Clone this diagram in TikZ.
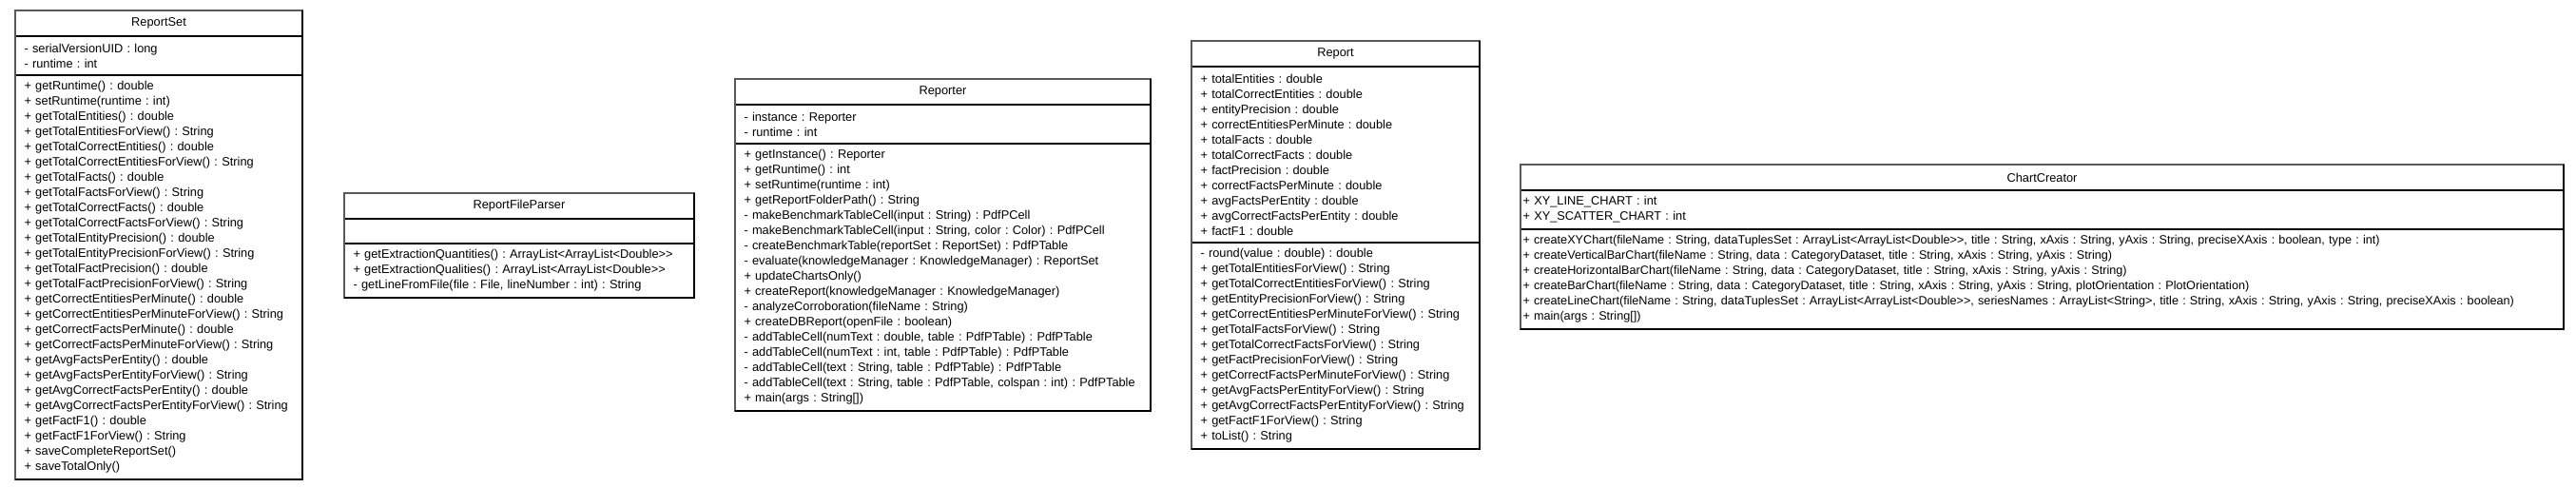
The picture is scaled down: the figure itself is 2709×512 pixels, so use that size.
\documentclass[tikz,border=0pt]{standalone}
\usepackage{fontspec}
\setmainfont{Liberation Sans}
\usetikzlibrary{positioning}
\tikzset{
    classname/.style={
           rectangle,
           draw=black, line width=1pt,
           minimum height=26pt,
           inner sep=0pt,
           text centered,
           font=\fontsize{12.8}{16}\selectfont,
           },
    classpart/.style={
           rectangle,
           draw=black, line width=1pt,
           inner xsep=9pt, inner ysep=0pt,
           align=left,
           font=\fontsize{12.8}{16}\selectfont,
           execute at begin node={\frenchspacing\hyphenpenalty=10000\exhyphenpenalty=10000},
           },
    classframe/.style={draw=black!65, line width=2pt},
    classshadow/.style={draw=black, line width=2pt},
}

\begin{document}
\begin{tikzpicture}
   \useasboundingbox (0,0) rectangle (2709pt,-512pt);

   % ReportSet
   \node[classname, minimum width=301pt, anchor=north west] (REPORTSET) at (16pt,-11pt) {ReportSet};
   \node[classpart, text width=283pt, minimum height=40pt, below=0pt of REPORTSET] (REPORTSETATTR)
   {- serialVersionUID : long\\
    - runtime : int};
   \node[classpart, text width=283pt, minimum height=424pt, below=0pt of REPORTSETATTR] (REPORTSETOPS)
   {+ getRuntime() : double\\
    + setRuntime(runtime : int)\\
    + getTotalEntities() : double\\
    + getTotalEntitiesForView() : String\\
    + getTotalCorrectEntities() : double\\
    + getTotalCorrectEntitiesForView() : String\\
    + getTotalFacts() : double\\
    + getTotalFactsForView() : String\\
    + getTotalCorrectFacts() : double\\
    + getTotalCorrectFactsForView() : String\\
    + getTotalEntityPrecision() : double\\
    + getTotalEntityPrecisionForView() : String\\
    + getTotalFactPrecision() : double\\
    + getTotalFactPrecisionForView() : String\\
    + getCorrectEntitiesPerMinute() : double\\
    + getCorrectEntitiesPerMinuteForView() : String\\
    + getCorrectFactsPerMinute() : double\\
    + getCorrectFactsPerMinuteForView() : String\\
    + getAvgFactsPerEntity() : double\\
    + getAvgFactsPerEntityForView() : String\\
    + getAvgCorrectFactsPerEntity() : double\\
    + getAvgCorrectFactsPerEntityForView() : String\\
    + getFactF1() : double\\
    + getFactF1ForView() : String\\
    + saveCompleteReportSet()\\
    + saveTotalOnly()};

   % ReportFileParser
   \node[classname, minimum width=367pt, anchor=north west] (PARSER) at (362pt,-203pt) {ReportFileParser};
   \node[classpart, text width=349pt, minimum height=25pt, below=0pt of PARSER] (PARSERATTR) {};
   \node[classpart, text width=349pt, minimum height=56pt, below=0pt of PARSERATTR] (PARSEROPS)
   {+ getExtractionQuantities() : ArrayList<ArrayList<Double>{}>\\
    + getExtractionQualities() : ArrayList<ArrayList<Double>{}>\\
    - getLineFromFile(file : File, lineNumber : int) : String};

   % Reporter
   \node[classname, minimum width=436pt, anchor=north west] (REPORTER) at (773pt,-83pt) {Reporter};
   \node[classpart, text width=418pt, minimum height=40pt, below=0pt of REPORTER] (REPORTERATTR)
   {- instance : Reporter\\
    - runtime : int};
   \node[classpart, text width=418pt, minimum height=280pt, below=0pt of REPORTERATTR] (REPORTEROPS)
   {+ getInstance() : Reporter\\
    + getRuntime() : int\\
    + setRuntime(runtime : int)\\
    + getReportFolderPath() : String\\
    - makeBenchmarkTableCell(input : String) : PdfPCell\\
    - makeBenchmarkTableCell(input : String, color : Color) : PdfPCell\\
    - createBenchmarkTable(reportSet : ReportSet) : PdfPTable\\
    - evaluate(knowledgeManager : KnowledgeManager) : ReportSet\\
    + updateChartsOnly()\\
    + createReport(knowledgeManager : KnowledgeManager)\\
    - analyzeCorroboration(fileName : String)\\
    + createDBReport(openFile : boolean)\\
    - addTableCell(numText : double, table : PdfPTable) : PdfPTable\\
    - addTableCell(numText : int, table : PdfPTable) : PdfPTable\\
    - addTableCell(text : String, table : PdfPTable) : PdfPTable\\
    - addTableCell(text : String, table : PdfPTable, colspan : int) : PdfPTable\\
    + main(args : String[])};

   % Report
   \node[classname, minimum width=302pt, anchor=north west] (REPORT) at (1253pt,-43pt) {Report};
   \node[classpart, text width=284pt, minimum height=184pt, below=0pt of REPORT] (REPORTATTR)
   {+ totalEntities : double\\
    + totalCorrectEntities : double\\
    + entityPrecision : double\\
    + correctEntitiesPerMinute : double\\
    + totalFacts : double\\
    + totalCorrectFacts : double\\
    + factPrecision : double\\
    + correctFactsPerMinute : double\\
    + avgFactsPerEntity : double\\
    + avgCorrectFactsPerEntity : double\\
    + factF1 : double};
   \node[classpart, text width=284pt, minimum height=216pt, below=0pt of REPORTATTR] (REPORTOPS)
   {- round(value : double) : double\\
    + getTotalEntitiesForView() : String\\
    + getTotalCorrectEntitiesForView() : String\\
    + getEntityPrecisionForView() : String\\
    + getCorrectEntitiesPerMinuteForView() : String\\
    + getTotalFactsForView() : String\\
    + getTotalCorrectFactsForView() : String\\
    + getFactPrecisionForView() : String\\
    + getCorrectFactsPerMinuteForView() : String\\
    + getAvgFactsPerEntityForView() : String\\
    + getAvgCorrectFactsPerEntityForView() : String\\
    + getFactF1ForView() : String\\
    + toList() : String};

   % ChartCreator (long lines, so almost no side padding)
   \node[classname, minimum width=1096pt, anchor=north west] (CHART) at (1599pt,-173pt) {ChartCreator};
   \node[classpart, inner xsep=2pt, text width=1092pt, minimum height=40pt, below=0pt of CHART] (CHARTATTR)
   {+ XY\_LINE\_CHART : int\\
    + XY\_SCATTER\_CHART : int};
   \node[classpart, inner xsep=2pt, text width=1092pt, minimum height=104pt,
    font=\fontsize{12.65}{16}\selectfont, below=0pt of CHARTATTR] (CHARTOPS)
   {+ createXYChart(fileName : String, dataTuplesSet : ArrayList<ArrayList<Double>{}>, title : String, xAxis : String, yAxis : String, preciseXAxis : boolean, type : int)\\
    + createVerticalBarChart(fileName : String, data : CategoryDataset, title : String, xAxis : String, yAxis : String)\\
    + createHorizontalBarChart(fileName : String, data : CategoryDataset, title : String, xAxis : String, yAxis : String)\\
    + createBarChart(fileName : String, data : CategoryDataset, title : String, xAxis : String, yAxis : String, plotOrientation : PlotOrientation)\\
    \mbox{+ createLineChart(fileName : String, dataTuplesSet : ArrayList<ArrayList<Double>{}>, seriesNames : ArrayList<String>, title : String, xAxis : String, yAxis : String, preciseXAxis : boolean)}\\
    + main(args : String[])};

   % outer frame of every class box
   \foreach \cls in {REPORTSET,PARSER,REPORTER,REPORT,CHART} {
     \draw[classframe] (\cls.north west) rectangle (\cls OPS.south east);
     \draw[classshadow] (\cls.north east) -- (\cls OPS.south east) -- (\cls OPS.south west);
   }
\end{tikzpicture}
\end{document}
